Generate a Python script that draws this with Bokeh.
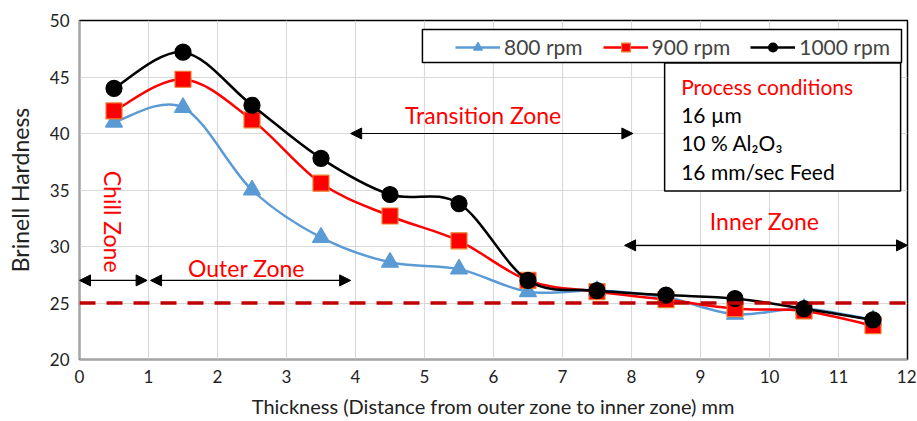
import numpy as np
from bokeh.plotting import figure
from bokeh.models import (Arrow, NormalHead, Legend, LegendItem, FixedTicker,
                          Span, Label, ColumnDataSource)
from bokeh.embed import file_html
from bokeh.resources import INLINE

# ---------------- data ----------------
thickness = [0.5, 1.5, 2.5, 3.5, 4.5, 5.5, 6.5, 7.5, 8.5, 9.5, 10.5, 11.5]
hb_800 = [41.0, 42.3, 35.0, 30.8, 28.6, 28.0, 26.0, 26.1, 25.5, 24.0, 24.5, 23.5]
hb_900 = [42.0, 44.8, 41.2, 35.6, 32.7, 30.5, 27.0, 26.0, 25.3, 24.5, 24.3, 23.0]
hb_1000 = [44.0, 47.2, 42.5, 37.8, 34.6, 33.8, 27.0, 26.1, 25.7, 25.4, 24.5, 23.5]
series_labels = ["800 rpm", "900 rpm", "1000 rpm"]
x_ticks = list(range(0, 13))
y_ticks = [20, 25, 30, 35, 40, 45, 50]
reference_hb = 25
conditions_title = "Process conditions"
conditions_lines = ["16 µm", "10 % Al₂O₃", "16 mm/sec Feed"]

FONT = "Lato"


def smooth_source(x, y, t=1 / 6):
    x = np.asarray(x, float)
    y = np.asarray(y, float)
    n = len(x)
    d = dict(x0=[], y0=[], x1=[], y1=[], cx0=[], cy0=[], cx1=[], cy1=[])
    for i in range(n - 1):
        i0 = max(i - 1, 0)
        i3 = min(i + 2, n - 1)
        d["x0"].append(x[i]); d["y0"].append(y[i])
        d["x1"].append(x[i + 1]); d["y1"].append(y[i + 1])
        d["cx0"].append(x[i] + (x[i + 1] - x[i0]) * t)
        d["cy0"].append(y[i] + (y[i + 1] - y[i0]) * t)
        d["cx1"].append(x[i + 1] - (x[i3] - x[i]) * t)
        d["cy1"].append(y[i + 1] - (y[i3] - y[i]) * t)
    return ColumnDataSource(d)


p = figure(width=916, height=420, x_range=(0, 12), y_range=(20, 50),
           output_backend="svg", toolbar_location=None,
           min_border_left=79, min_border_right=9, min_border_top=20,
           min_border_bottom=60)
p.outline_line_color = "black"
p.outline_line_width = 1.5
p.background_fill_color = "white"
p.border_fill_color = "white"

p.xaxis.ticker = FixedTicker(ticks=x_ticks)
p.yaxis.ticker = FixedTicker(ticks=y_ticks)
p.xgrid.ticker = FixedTicker(ticks=x_ticks)
p.ygrid.ticker = FixedTicker(ticks=y_ticks)
p.xgrid.grid_line_color = "#d9d9d9"
p.ygrid.grid_line_color = "#d9d9d9"
p.xgrid.grid_line_width = 1.2
p.ygrid.grid_line_width = 1.2

for ax in (p.xaxis, p.yaxis):
    ax.axis_line_color = "#a6a6a6"
    ax.axis_line_width = 1.5
    ax.major_tick_line_color = None
    ax.minor_tick_line_color = None
    ax.major_tick_out = 0
    ax.major_tick_in = 0
    ax.major_label_text_font = FONT
    ax.major_label_text_font_size = "17px"
    ax.major_label_text_color = "#222222"
    ax.axis_label_text_font = FONT
    ax.axis_label_text_font_style = "normal"
    ax.axis_label_text_color = "#222222"

p.xaxis.axis_label_text_font_size = "20px"
p.yaxis.axis_label_text_font_size = "23px"
p.xaxis.axis_label = "Thickness (Distance from outer zone to inner zone) mm"
p.yaxis.axis_label = "Brinell Hardness"
p.xaxis.major_label_standoff = 10
p.xaxis.axis_label_standoff = 8
p.yaxis.major_label_standoff = 10
p.yaxis.axis_label_standoff = 13

# reference line
p.add_layout(Span(location=reference_hb, dimension="width", line_color="#C00000",
                  line_width=3.5, line_dash="16 11"))

# zone arrows
def zone_arrow(xs, xe, y):
    p.add_layout(Arrow(x_start=xs, y_start=y, x_end=xe, y_end=y,
                       line_color="black", line_width=1.2,
                       start=NormalHead(size=11, fill_color="black", line_color="black"),
                       end=NormalHead(size=11, fill_color="black", line_color="black")))

zone_arrow(0.0, 0.98, 27)
zone_arrow(1.03, 3.93, 27)
zone_arrow(3.93, 8.02, 40)
zone_arrow(7.9, 12.0, 30.1)

def zone_label(x, y, text, angle=0.0):
    p.add_layout(Label(x=x, y=y, text=text, text_font=FONT, text_font_size="23px",
                       text_color="#FF0000", text_align="center",
                       text_baseline="middle", angle=angle))

zone_label(0.48, 32.2, "Chill Zone", angle=-np.pi / 2)
zone_label(2.42, 28.1, "Outer Zone")
zone_label(5.85, 41.6, "Transition Zone")
zone_label(9.93, 32.3, "Inner Zone")

# legend frame (drawn as a box behind the legend entries)
p.quad(left=[4.97], right=[11.913], bottom=[46.29], top=[49.21],
       fill_color="white", line_color="black", line_width=1.5)

# series
styles = [
    dict(color="#5B9BD5", marker="triangle", fill="#5B9BD5", line="#5B9BD5", size=17),
    dict(color="#FF0000", marker="square", fill="#FF0000", line="#ED7D31", size=16),
    dict(color="black", marker="circle", fill="black", line="black", size=16),
]
items = []
for lab, ys, st in zip(series_labels, [hb_800, hb_900, hb_1000], styles):
    src = smooth_source(thickness, ys)
    b = p.bezier(x0="x0", y0="y0", x1="x1", y1="y1", cx0="cx0", cy0="cy0",
                 cx1="cx1", cy1="cy1", source=src, line_color=st["color"],
                 line_width=2.5)
    s = p.scatter(thickness, ys, marker=st["marker"], size=st["size"],
                  fill_color=st["fill"], line_color=st["line"], line_width=1.2)
    items.append(LegendItem(label=lab, renderers=[b, s]))

legend = Legend(items=items, orientation="horizontal", location=(376, 300),
                margin=0, padding=5, spacing=20, label_standoff=4,
                glyph_width=45, glyph_height=22,
                label_text_font=FONT, label_text_font_size="21px",
                border_line_color=None, background_fill_alpha=0.0)
p.add_layout(legend)

# process condition box
p.quad(left=[8.48], right=[11.9], bottom=[34.91], top=[46.23],
       fill_color="white", line_color="black", line_width=1.5)
p.add_layout(Label(x=8.72, y=44.2, text=conditions_title, text_font=FONT,
                   text_font_size="21px", text_color="#FF0000",
                   text_baseline="middle"))
for i, t in enumerate(conditions_lines):
    p.add_layout(Label(x=8.72, y=41.7 - i * 2.52, text=t, text_font=FONT,
                       text_font_size="21px", text_color="black",
                       text_baseline="middle"))

open("out.html", "w").write(file_html(p, INLINE))
